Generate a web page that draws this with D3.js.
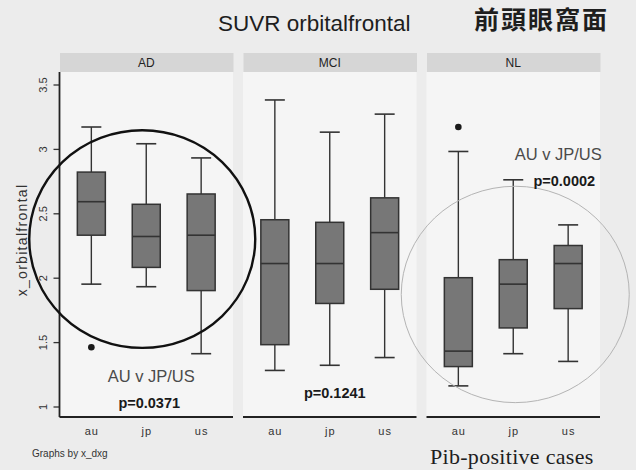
<!DOCTYPE html>
<html>
<head>
<meta charset="utf-8">
<script src="https://cdn.jsdelivr.net/npm/d3@7"></script>
<style>
  html, body { margin: 0; padding: 0; background: #ececec; }
  svg { display: block; }
  text { font-family: "Liberation Sans", Arial, sans-serif; }
</style>
</head>
<body>
<svg id="chart" width="636" height="470"></svg>
<script>
// Diagnosis panels and site groups
const panels = ["AD", "MCI", "NL"];
const groups = ["au", "jp", "us"];
const yTicks = [1, 1.5, 2, 2.5, 3, 3.5];

// Box statistics of x_orbitalfrontal, one row per panel, one entry per group
const whiskerLow  = [[1.95, 1.93, 1.41], [1.28, 1.32, 1.38], [1.16, 1.41, 1.35]];
const q1          = [[2.33, 2.08, 1.90], [1.48, 1.80, 1.91], [1.31, 1.61, 1.76]];
const median      = [[2.59, 2.32, 2.33], [2.11, 2.11, 2.35], [1.43, 1.95, 2.11]];
const q3          = [[2.82, 2.57, 2.65], [2.45, 2.43, 2.62], [2.00, 2.14, 2.25]];
const whiskerHigh = [[3.17, 3.04, 2.93], [3.38, 3.13, 3.27], [2.98, 2.76, 2.41]];

// Outside values
const outliers = [
  { panel: "AD", group: "au", value: 1.46 },
  { panel: "NL", group: "au", value: 3.17 }
];

// Comparison notes written on the panels (value = baseline height on the y scale)
const notes = [
  { panel: "AD",  dx: 5,  value: 1.19, text: "AU v JP/US", bold: false },
  { panel: "AD",  dx: 3,  value: 0.99, text: "p=0.0371",   bold: true },
  { panel: "MCI", dx: 5,  value: 1.065, text: "p=0.1241",  bold: true },
  { panel: "NL",  dx: 45, value: 2.915, text: "AU v JP/US", bold: false },
  { panel: "NL",  dx: 51, value: 2.71, text: "p=0.0002",   bold: true }
];

// Circled groups (centre on the scales, radii in px / data units)
const rings = [
  { panel: "AD", dx: -4, cy: 2.30, rx: 113, ryv: 0.845, stroke: "#111", width: 2.4 },
  { panel: "NL", dx: 2,  cy: 1.87, rx: 114, ryv: 0.84,  stroke: "#b4b4b4", width: 1 }
];

const svg = d3.select("#chart");

const plotTop = 72, plotBottom = 417;
const y = d3.scaleLinear().domain([1, 3.5]).range([406.5, 84.5]);

const panelX = d3.scaleBand().domain(panels).range([59.5, 600]).paddingInner(0.0545).paddingOuter(0);
const groupX = d3.scalePoint().domain(groups).range([0, panelX.bandwidth()]).padding(0.58);

const boxW = 28, capW = 20;

// Panel backgrounds and header strips
panels.forEach(p => {
  const x0 = panelX(p);
  svg.append("rect").attr("x", x0).attr("y", plotTop).attr("width", panelX.bandwidth())
    .attr("height", plotBottom - plotTop).attr("fill", "#f5f5f5");
  svg.append("rect").attr("x", x0 + 0.5).attr("y", 53).attr("width", panelX.bandwidth())
    .attr("height", 19).attr("fill", "#d6d6d6");
  svg.append("text").attr("x", x0 + panelX.bandwidth() / 2).attr("y", 67)
    .attr("text-anchor", "middle").attr("font-size", 12).attr("fill", "#222").text(p);
});

// Y axis on the first panel
const yAxis = d3.axisLeft(y).tickValues(yTicks).tickSize(6).tickFormat(d3.format("~g"));
const yg = svg.append("g").attr("transform", `translate(${panelX(panels[0])},0)`).call(yAxis);
yg.select(".domain").remove();
yg.append("line").attr("x1", 0).attr("x2", 0).attr("y1", plotTop).attr("y2", plotBottom)
  .attr("stroke", "#222").attr("stroke-width", 1.8);
yg.selectAll(".tick line").attr("stroke", "#333").attr("stroke-width", 1.3);
yg.selectAll(".tick text")
  .attr("x", null).attr("dy", null)
  .attr("transform", "translate(-13,0) rotate(-90)")
  .attr("text-anchor", "middle")
  .attr("font-size", 11).attr("fill", "#333")
  .attr("font-family", "Liberation Sans, Arial, sans-serif");

svg.append("text")
  .attr("transform", `translate(27,240) rotate(-90)`)
  .attr("text-anchor", "middle").attr("font-size", 14).attr("letter-spacing", 1.3)
  .attr("fill", "#333")
  .text("x_orbitalfrontal");

// X axis per panel
panels.forEach(p => {
  const xs = d3.scalePoint().domain(groups).range([panelX(p), panelX(p) + panelX.bandwidth()]).padding(0.58);
  const g = svg.append("g").attr("transform", `translate(0,${plotBottom})`)
    .call(d3.axisBottom(xs).tickSize(0).tickPadding(10));
  g.select(".domain").attr("stroke", "#222").attr("stroke-width", 1.8)
    .attr("d", `M${panelX(p)},0H${panelX(p) + panelX.bandwidth()}`);
  g.selectAll(".tick text").attr("font-size", 11).attr("fill", "#333")
    .attr("letter-spacing", 1).attr("font-family", "Liberation Sans, Arial, sans-serif");
});

// Boxes and whiskers
panels.forEach((p, pi) => {
  groups.forEach((gname, gi) => {
    const cx = panelX(p) + groupX(gname);
    const g = svg.append("g").attr("stroke", "#333");
    g.append("line").attr("x1", cx).attr("x2", cx)
      .attr("y1", y(whiskerHigh[pi][gi])).attr("y2", y(q3[pi][gi])).attr("stroke-width", 1.4);
    g.append("line").attr("x1", cx).attr("x2", cx)
      .attr("y1", y(q1[pi][gi])).attr("y2", y(whiskerLow[pi][gi])).attr("stroke-width", 1.4);
    g.append("line").attr("x1", cx - capW / 2).attr("x2", cx + capW / 2)
      .attr("y1", y(whiskerHigh[pi][gi])).attr("y2", y(whiskerHigh[pi][gi])).attr("stroke-width", 1.6);
    g.append("line").attr("x1", cx - capW / 2).attr("x2", cx + capW / 2)
      .attr("y1", y(whiskerLow[pi][gi])).attr("y2", y(whiskerLow[pi][gi])).attr("stroke-width", 1.6);
    g.append("rect").attr("x", cx - boxW / 2).attr("width", boxW)
      .attr("y", y(q3[pi][gi])).attr("height", y(q1[pi][gi]) - y(q3[pi][gi]))
      .attr("fill", "#777777").attr("stroke-width", 1.5);
    g.append("line").attr("x1", cx - boxW / 2).attr("x2", cx + boxW / 2)
      .attr("y1", y(median[pi][gi])).attr("y2", y(median[pi][gi])).attr("stroke-width", 1.6);
  });
});

// Outside values
svg.selectAll("circle.outlier").data(outliers).join("circle")
  .attr("class", "outlier")
  .attr("cx", d => panelX(d.panel) + groupX(d.group))
  .attr("cy", d => y(d.value))
  .attr("r", 3.3).attr("fill", "#1a1a1a");

// Rings around groups
rings.forEach(r => {
  const cx = panelX(r.panel) + panelX.bandwidth() / 2 + r.dx;
  svg.append("ellipse").attr("cx", cx).attr("cy", y(r.cy))
    .attr("rx", r.rx).attr("ry", y(r.cy - r.ryv) - y(r.cy))
    .attr("fill", "none").attr("stroke", r.stroke).attr("stroke-width", r.width);
});

// Notes
notes.forEach(n => {
  svg.append("text")
    .attr("x", panelX(n.panel) + panelX.bandwidth() / 2 + n.dx)
    .attr("y", y(n.value))
    .attr("text-anchor", "middle")
    .attr("font-size", n.bold ? 14.5 : 16.5)
    .attr("font-weight", n.bold ? "bold" : "normal")
    .attr("fill", n.bold ? "#1a1a1a" : "#4a4a4a")
    .text(n.text);
});

// Titles and captions
svg.append("text").attr("x", 218).attr("y", 31).attr("font-size", 22.5).attr("fill", "#1e1e1e")
  .text("SUVR orbitalfrontal");
svg.append("text").attr("x", 474).attr("y", 29).attr("font-size", 25).attr("font-weight", 700)
  .attr("letter-spacing", 2).attr("fill", "#1e1e1e")
  .style("font-family", "'Noto Sans CJK TC', 'Noto Sans CJK SC', sans-serif")
  .text("前頭眼窩面");
svg.append("text").attr("x", 32).attr("y", 457).attr("font-size", 10).attr("fill", "#333")
  .text("Graphs by x_dxg");
svg.append("text").attr("x", 430).attr("y", 464).attr("font-size", 22).attr("letter-spacing", 0.3)
  .attr("fill", "#1e1e1e")
  .style("font-family", "'Liberation Serif', 'Times New Roman', serif")
  .text("Pib-positive cases");
</script>
</body>
</html>
